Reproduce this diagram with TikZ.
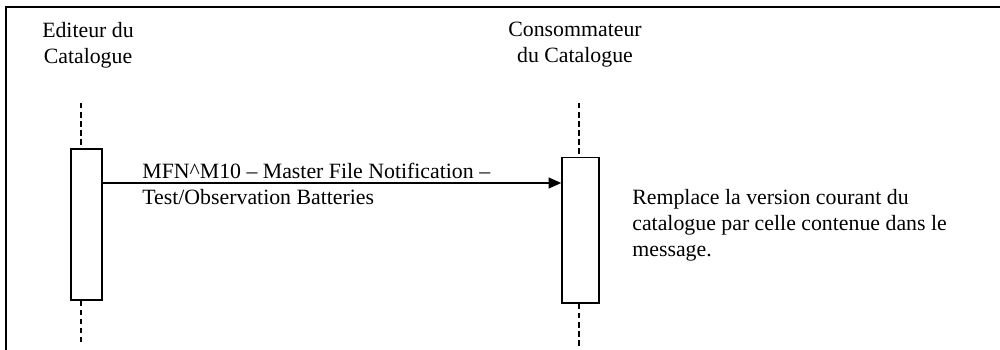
\documentclass[tikz,border=0pt]{standalone}
\usepackage{fontspec}
\setmainfont{Liberation Serif}
\usetikzlibrary{arrows.meta}
\tikzset{
  txt/.style={inner sep=0pt, font=\fontsize{12}{14.3}\selectfont},
  actor/.style={txt, align=center},
  lifeline/.style={dash pattern=on 3pt off 2pt, line width=0.8pt},
  actbox/.style={draw, line width=0.8pt, fill=white, inner sep=0pt},
  msg/.style={line width=1pt, -{Triangle[length=7pt,width=6pt]}}
}
\begin{document}
\begin{tikzpicture}[x=0.55pt,y=-0.55pt]
        \useasboundingbox (0,0) rectangle (1000,350);
        \draw[line width=1.2pt] (6,350)--(6,7)--(1000,7);
        % actors
        \node[actor] (editeur) at (88,45) {Editeur du\\Catalogue};
        \node[actor] (conso) at (575,45) {Consommateur\\du Catalogue};
        % activation boxes
        \node[actbox, minimum width=17pt, minimum height=83pt] (actA) at (86.5,224.5) {};
        \node[actbox, minimum width=20.4pt, minimum height=80pt] (actB) at (580.5,230.5) {};
        \coordinate (topA) at (81,103);
        \coordinate (botA) at (81,346);
        \coordinate (topB) at (579,103);
        \coordinate (botB) at (579,346);
        \draw[lifeline] (topA)--(topA |- actA.north);
        \draw[lifeline] (topA |- actA.south)--(botA);
        \draw[lifeline] (topB)--(topB |- actB.north);
        \draw[lifeline] (topB |- actB.south)--(botB);
        % message
        \coordinate (m) at (0,183);
        \draw[msg] (actA.east |- m)--(actB.west |- m);
        \node[txt, align=left, anchor=west] (lbl) at (142,183.5)
            {MFN\textasciicircum M10 \textendash{} Master File Notification \textendash\\Test/Observation Batteries};
        \node[txt, align=left, anchor=west] (note) at (632,225)
            {Remplace la version courant du\\catalogue par celle contenue dans le\\message.};
    \end{tikzpicture}
\end{document}
